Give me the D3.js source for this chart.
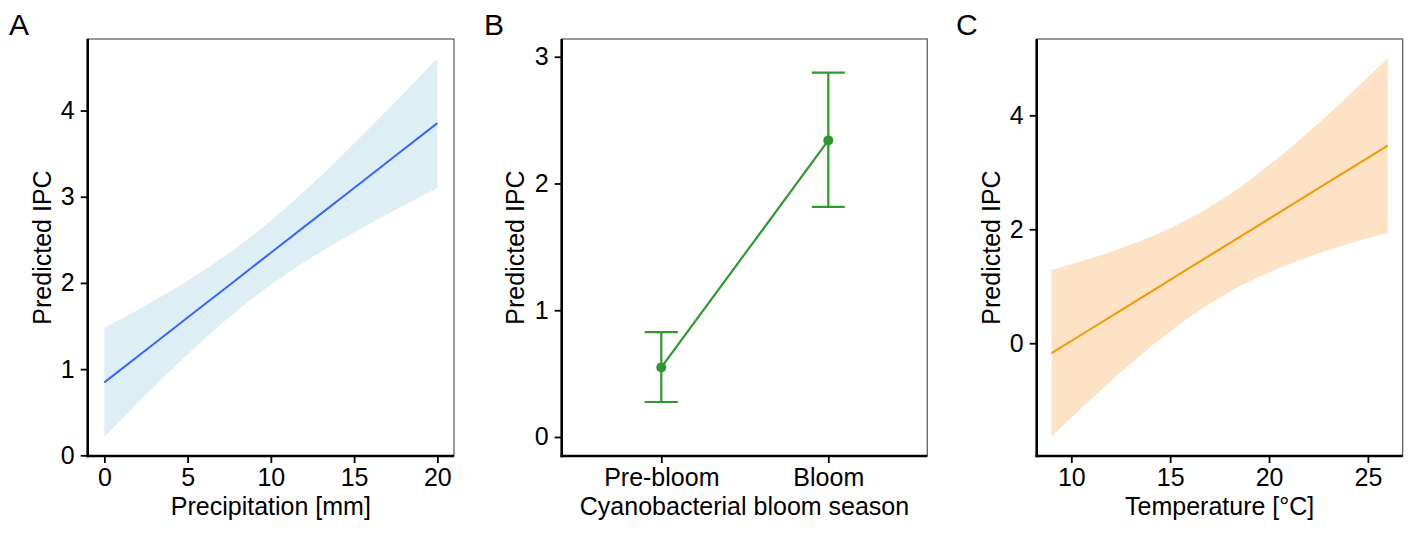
<!DOCTYPE html>
<html>
<head>
<meta charset="utf-8">
<script src="https://cdn.jsdelivr.net/npm/d3@7"></script>
<style>
  body { margin: 0; background: #fff; }
  svg text { font-family: "Liberation Sans", Arial, sans-serif; fill: #000; }
</style>
</head>
<body>
<div id="figure_div"></div>
<script>
// Panel A: precipitation
var precip_x     = [0, 2.5, 5, 7.5, 10, 12.5, 15, 17.5, 20];
var precip_fit   = [0.846, 1.222, 1.598, 1.974, 2.350, 2.726, 3.102, 3.478, 3.854];
var precip_upper = [1.479, 1.742, 2.026, 2.347, 2.721, 3.151, 3.618, 4.106, 4.607];
var precip_lower = [0.213, 0.702, 1.170, 1.601, 1.979, 2.301, 2.586, 2.850, 3.101];
var precip_ticks = [0, 5, 10, 15, 20];
var precip_y_ticks = [0, 1, 2, 3, 4];

// Panel B: bloom season
var season_names = ['Pre-bloom', 'Bloom'];
var season_fit   = [0.549, 2.34];
var season_lower = [0.276, 1.815];
var season_upper = [0.827, 2.874];
var season_y_ticks = [0, 1, 2, 3];

// Panel C: temperature
var temp_x     = [9, 11, 13, 15, 17, 19, 21, 23, 25, 26];
var temp_fit   = [-0.175, 0.254, 0.683, 1.111, 1.540, 1.969, 2.398, 2.826, 3.255, 3.470];
var temp_upper = [1.285, 1.490, 1.727, 2.018, 2.389, 2.857, 3.410, 4.020, 4.668, 5.002];
var temp_lower = [-1.635, -0.982, -0.361, 0.204, 0.691, 1.081, 1.386, 1.632, 1.842, 1.938];
var temp_ticks = [10, 15, 20, 25];
var temp_y_ticks = [0, 2, 4];

var y_title = 'Predicted IPC';

function figure_ipc() {
    var width = 1411;
    var height = 547;
    var plot_top = 39;
    var plot_bottom = 456;
    var font_size = '25px';

    var svg = d3.select('#figure_div')
        .append('svg')
        .attr('width', width)
        .attr('height', height);

    function make_panel(opts) {
        var g = svg.append('g');

        // light border round the plot area
        g.append('rect')
            .attr('x', opts.left)
            .attr('y', plot_top)
            .attr('width', opts.right - opts.left)
            .attr('height', plot_bottom - plot_top)
            .attr('fill', 'none')
            .attr('stroke', '#555')
            .attr('stroke-width', 1.2);

        var fmt = d3.format('d');
        var x_axis = g.append('g')
            .attr('transform', `translate(0, ${plot_bottom})`)
            .call(d3.axisBottom(opts.x).tickValues(opts.x_ticks).tickSize(7).tickPadding(5)
                .tickFormat(opts.x.bandwidth ? null : fmt));
        var y_axis = g.append('g')
            .attr('transform', `translate(${opts.left}, 0)`)
            .call(d3.axisLeft(opts.y).tickValues(opts.y_ticks).tickSize(7).tickPadding(6).tickFormat(fmt));

        [x_axis, y_axis].forEach(function(a) {
            a.attr('font-size', null).attr('font-family', null);
            a.select('.domain').remove();
            a.selectAll('line').attr('stroke', '#000').attr('stroke-width', 1.8);
            a.selectAll('text')
                .style('font-size', font_size)
                .attr('fill', '#000');
        });

        // heavy axis lines
        g.append('line')
            .attr('x1', opts.left).attr('x2', opts.left)
            .attr('y1', plot_top).attr('y2', plot_bottom + 1.2)
            .attr('stroke', '#000').attr('stroke-width', 2.6);
        g.append('line')
            .attr('x1', opts.left - 1.2).attr('x2', opts.right)
            .attr('y1', plot_bottom).attr('y2', plot_bottom)
            .attr('stroke', '#000').attr('stroke-width', 2.6);

        g.append('text')
            .attr('x', (opts.left + opts.right) / 2)
            .attr('y', 515)
            .attr('text-anchor', 'middle')
            .style('font-size', font_size)
            .text(opts.x_title);

        g.append('text')
            .attr('transform', `translate(${opts.y_title_x}, ${(plot_top + plot_bottom) / 2}) rotate(-90)`)
            .attr('text-anchor', 'middle')
            .style('font-size', font_size)
            .text(y_title);

        g.append('text')
            .attr('x', opts.letter_x)
            .attr('y', 35)
            .style('font-size', '30px')
            .text(opts.letter);

        return g;
    }

    function draw_ribbon(g, x, y, xs, fit, lower, upper, fill, stroke) {
        var rows = xs.map(function(d, i) {
            return { x: d, fit: fit[i], lo: lower[i], hi: upper[i] };
        });
        var area = d3.area()
            .curve(d3.curveMonotoneX)
            .x(function(d) { return x(d.x); })
            .y0(function(d) { return y(d.lo); })
            .y1(function(d) { return y(d.hi); });
        var line = d3.line()
            .x(function(d) { return x(d.x); })
            .y(function(d) { return y(d.fit); });
        g.insert('path', ':first-child')
            .datum(rows)
            .attr('d', area)
            .attr('fill', fill);
        g.append('path')
            .datum(rows)
            .attr('d', line)
            .attr('fill', 'none')
            .attr('stroke', stroke)
            .attr('stroke-width', 2);
    }

    // ---- Panel A
    var xa = d3.scaleLinear().domain([-1, 21]).range([87.7, 454]);
    var ya = d3.scaleLinear().domain([-0.008, 4.83]).range([plot_bottom, plot_top]);
    var ga = make_panel({
        left: 87.7, right: 454, x: xa, y: ya,
        x_ticks: precip_ticks, y_ticks: precip_y_ticks,
        x_title: 'Precipitation [mm]', y_title_x: 51, letter: 'A', letter_x: 9
    });
    draw_ribbon(ga, xa, ya, precip_x, precip_fit, precip_lower, precip_upper, '#ddeef5', '#3366ff');

    // ---- Panel B
    var xb = d3.scalePoint().domain(season_names).range([661.3, 828.3]);
    var yb = d3.scaleLinear().domain([-0.15, 3.14]).range([plot_bottom, plot_top]);
    var gb = make_panel({
        left: 561.7, right: 927.3, x: xb, y: yb,
        x_ticks: season_names, y_ticks: season_y_ticks,
        x_title: 'Cyanobacterial bloom season', y_title_x: 524, letter: 'B', letter_x: 484
    });
    var green = '#2e9a2e';
    var season_rows = season_names.map(function(d, i) {
        return { name: d, fit: season_fit[i], lo: season_lower[i], hi: season_upper[i] };
    });
    var bars = gb.append('g').selectAll('g').data(season_rows).enter().append('g');
    bars.append('line')
        .attr('x1', function(d) { return xb(d.name); })
        .attr('x2', function(d) { return xb(d.name); })
        .attr('y1', function(d) { return yb(d.lo); })
        .attr('y2', function(d) { return yb(d.hi); })
        .attr('stroke', green).attr('stroke-width', 2.2);
    bars.selectAll('.cap')
        .data(function(d) { return [{ name: d.name, v: d.lo }, { name: d.name, v: d.hi }]; })
        .enter()
        .append('line')
        .attr('class', 'cap')
        .attr('x1', function(d) { return xb(d.name) - 16.5; })
        .attr('x2', function(d) { return xb(d.name) + 16.5; })
        .attr('y1', function(d) { return yb(d.v); })
        .attr('y2', function(d) { return yb(d.v); })
        .attr('stroke', green).attr('stroke-width', 2.2);
    gb.append('path')
        .datum(season_rows)
        .attr('d', d3.line()
            .x(function(d) { return xb(d.name); })
            .y(function(d) { return yb(d.fit); }))
        .attr('fill', 'none')
        .attr('stroke', green)
        .attr('stroke-width', 2.2);
    gb.selectAll('circle')
        .data(season_rows)
        .enter()
        .append('circle')
        .attr('cx', function(d) { return xb(d.name); })
        .attr('cy', function(d) { return yb(d.fit); })
        .attr('r', 5)
        .attr('fill', green);

    // ---- Panel C
    var xc = d3.scaleLinear().domain([8.25, 26.76]).range([1036.7, 1402.7]);
    var yc = d3.scaleLinear().domain([-1.98, 5.34]).range([plot_bottom, plot_top]);
    var gc = make_panel({
        left: 1036.7, right: 1402.7, x: xc, y: yc,
        x_ticks: temp_ticks, y_ticks: temp_y_ticks,
        x_title: 'Temperature [°C]', y_title_x: 1000, letter: 'C', letter_x: 956
    });
    draw_ribbon(gc, xc, yc, temp_x, temp_fit, temp_lower, temp_upper, '#fde2c6', '#f29a00');
}

figure_ipc();
</script>
</body>
</html>
